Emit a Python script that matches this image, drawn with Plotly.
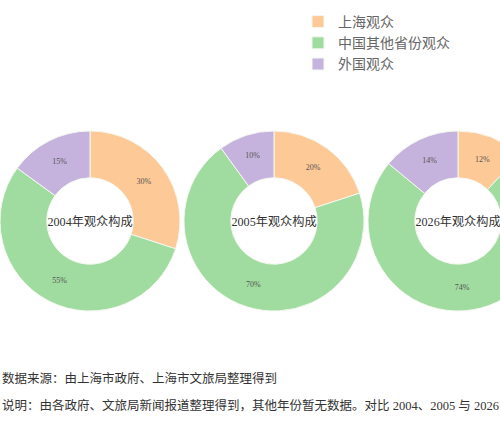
import plotly.graph_objects as go

labels = ["上海观众", "中国其他省份观众", "外国观众"]
years = ["2004", "2005", "2026"]
v2004 = [30, 55, 15]
v2005 = [20, 70, 10]
v2026 = [12, 74, 14]
values = [v2004, v2005, v2026]

colors = ["#FDC997", "#A0DBA0", "#C5B3DD"]

W, H = 560, 440
centers = [90, 274, 458]   # pixel centres of the donuts
cy = 221
r = 90

fig = go.Figure()
for yr, vals, cx in zip(years, values, centers):
    fig.add_trace(go.Pie(
        labels=labels,
        values=vals,
        hole=0.48,
        sort=False,
        direction="clockwise",
        rotation=0,
        marker=dict(colors=colors, line=dict(color="#F4F8F0", width=1)),
        texttemplate="%{value}%",
        textposition="inside",
        insidetextorientation="horizontal",
        textfont=dict(size=8, color="#555555", family="Liberation Serif"),
        title=dict(text=yr + "年观众构成", position="middle center",
                   font=dict(size=13, color="#333333",
                             family="Liberation Serif, Noto Sans CJK SC")),
        domain=dict(x=[(cx - r) / W, (cx + r) / W],
                    y=[(H - cy - r) / H, (H - cy + r) / H]),
        hoverinfo="label+percent",
    ))

notes = [
    "数据来源：由上海市政府、上海市文旅局整理得到",
    "说明：由各政府、文旅局新闻报道整理得到，其他年份暂无数据。对比 2004、2005 与 2026 年的观众构成",
]
for i, t in enumerate(notes):
    fig.add_annotation(text=t, x=0, y=1 - (378 + 27 * i) / H, xref="paper", yref="paper",
                       xanchor="left", yanchor="middle", showarrow=False,
                       font=dict(size=12.5, color="#333333",
                                 family="Liberation Serif, Noto Sans CJK SC"))

fig.update_layout(
    width=W, height=H,
    margin=dict(l=0, r=0, t=0, b=0),
    paper_bgcolor="white",
    plot_bgcolor="white",
    showlegend=True,
    legend=dict(x=298 / W, y=1 - 6 / H, xanchor="left", yanchor="top",
                font=dict(size=14, color="#666666",
                          family="Liberation Serif, Noto Sans CJK SC"),
                tracegroupgap=2, itemwidth=30),
)

fig.write_html(
    "out.html",
    post_script="document.body.style.margin='0';"
                "document.body.style.overflow='hidden';"
                "document.documentElement.style.overflow='hidden';",
)
